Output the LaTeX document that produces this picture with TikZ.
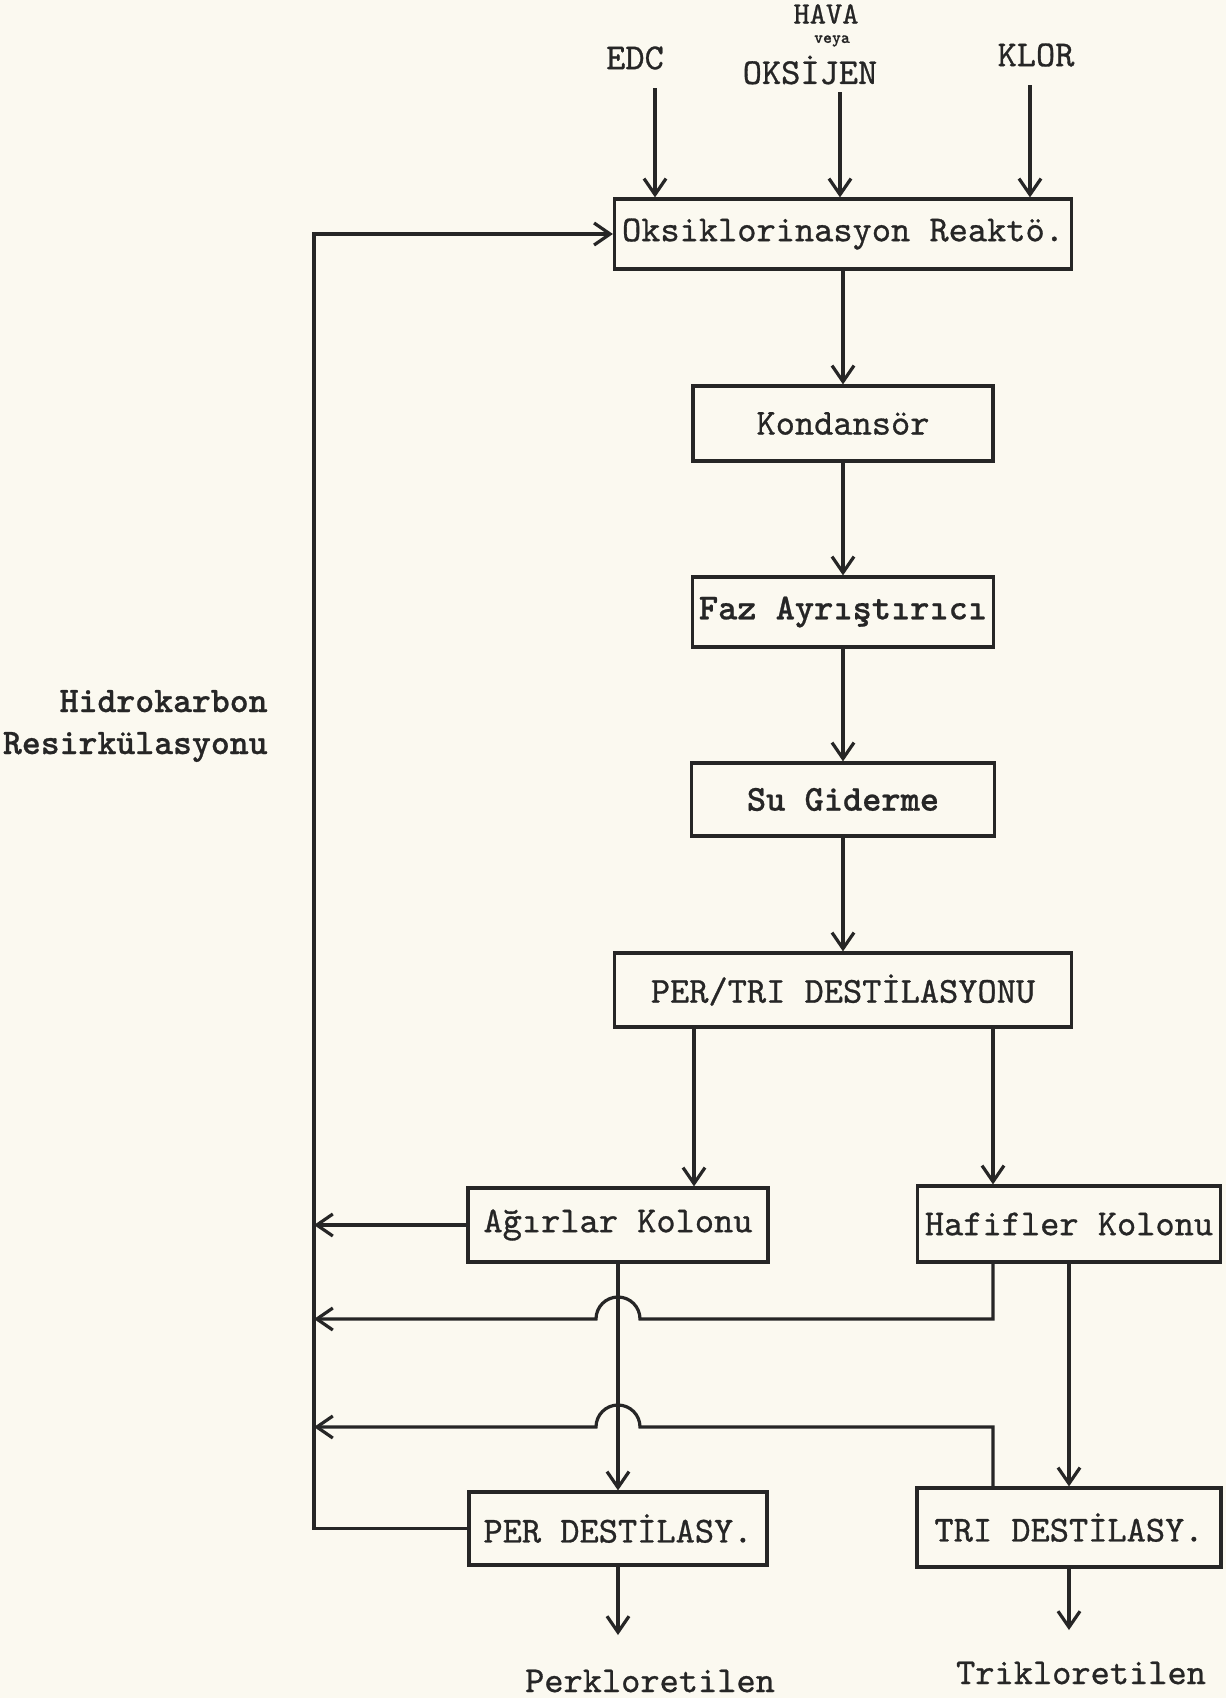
\documentclass[tikz,border=0pt]{standalone}
\usepackage{fontspec}
\newfontfamily\typer{lmmono10-regular.otf}[FakeBold=0.8,BoldFont=lmmonolt10-bold.otf,BoldFeatures={FakeBold=0.6}]
\usetikzlibrary{arrows.meta}
\definecolor{paper}{RGB}{251,249,240}
\definecolor{ink}{RGB}{38,38,38}

\begin{document}
\begin{tikzpicture}[x=0.5pt,y=-0.5pt]
\tikzstyle{every node}+=[inner sep=0pt,text=ink,font=\typer\fontsize{18.3}{22}\selectfont]
\tikzstyle{unit}=[draw=ink,line width=1.6pt,rectangle]
\tikzstyle{flow}=[draw=ink,line width=1.6pt,-{Straight Barb[length=8pt,width=11pt]}]
\fill[paper] (0,0) rectangle (1226,1698);
\useasboundingbox (0,0) rectangle (1226,1698);
\node[unit,minimum width=228.5pt,minimum height=35pt] (reactor) at (843,234) {Oksiklorinasyon Reaktö.};
\node[unit,minimum width=150pt,minimum height=37.5pt] (kond) at (843,423.5) {Kondansör};
\node[unit,minimum width=150.5pt,minimum height=35pt] (faz) at (843,612) {\bfseries Faz Ayrıştırıcı};
\node[unit,minimum width=151.5pt,minimum height=36.5pt] (su) at (843,799.5) {\bfseries Su Giderme};
\node[unit,minimum width=228.5pt,minimum height=37pt] (pertri) at (843,990) {PER/TRI DESTİLASYONU};
\node[unit,minimum width=150pt,minimum height=37pt] (agir) at (618,1225) {Ağırlar Kolonu};
\node[unit,minimum width=151.5pt,minimum height=38pt] (hafif) at (1069,1224) {Hafifler Kolonu};
\node[unit,minimum width=149pt,minimum height=36.5pt] (perd) at (618,1528.5) {PER DESTİLASY.};
\node[unit,minimum width=152pt,minimum height=39.5pt] (tri) at (1069,1527.5) {TRI DESTİLASY.};
\node (edc) at (635,58) {EDC};
\node[font=\typer\fontsize{15.5}{15.5}\selectfont] (hava) at (826,14) {HAVA};
\node[font=\typer\bfseries\fontsize{8.5}{8.5}\selectfont] (veya) at (832,41) {veya};
\node (oksijen) at (810,70) {OKSİJEN};
\node (klor) at (1036,55) {KLOR};
\node[align=right,anchor=east,font=\typer\bfseries\fontsize{18}{21}\selectfont] (hidro) at (268,726) {Hidrokarbon\\Resirkülasyonu};
\node (perk) at (650,1681) {Perkloretilen};
\node (trik) at (1081,1673) {Trikloretilen};
\coordinate (edcin) at (655,88);
\coordinate (havain) at (840,92);
\coordinate (klorin) at (1030,85);
\coordinate (back) at (314,0);
\coordinate (heavy) at (694,0);
\coordinate (light) at (993,0);
\coordinate (jumpa) at (618,1319);
\coordinate (jumpb) at (618,1427);
\coordinate (perout) at (618,1635);
\coordinate (triout) at (1069,1630);
\draw[flow] (edcin) -- (edcin |- reactor.north);
\draw[flow] (havain) -- (havain |- reactor.north);
\draw[flow] (klorin) -- (klorin |- reactor.north);
\draw[flow] (reactor) -- (kond);
\draw[flow] (kond) -- (faz);
\draw[flow] (faz) -- (su);
\draw[flow] (su) -- (pertri);
\draw[flow] (pertri.south -| heavy) -- (agir.north -| heavy);
\draw[flow] (pertri.south -| light) -- (hafif.north -| light);
\draw[flow] (agir) -- (perd);
\draw[flow] (hafif) -- (tri);
\draw[flow] (agir.west) -- (agir.west -| back);
\draw[flow] (hafif.south -| light) -- (light |- jumpa) -- ([xshift=11pt]jumpa) arc[start angle=0,end angle=180,radius=11pt] -- (back |- jumpa);
\draw[flow] (tri.north -| light) -- (light |- jumpb) -- ([xshift=11pt]jumpb) arc[start angle=0,end angle=180,radius=11pt] -- (back |- jumpb);
\draw[flow] (perd.west) -- (perd.west -| back) -- (back |- reactor.west) -- (reactor.west);
\draw[flow] (perd.south) -- (perout);
\draw[flow] (tri.south) -- (triout);
\end{tikzpicture}
\end{document}
